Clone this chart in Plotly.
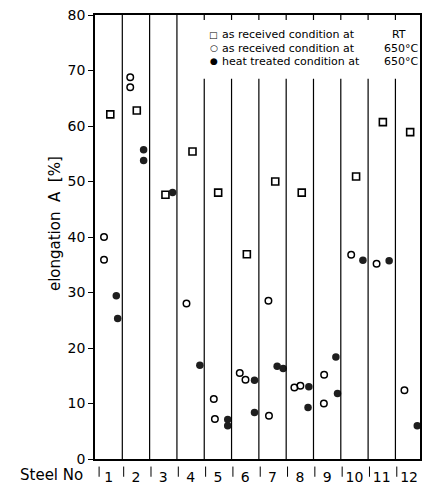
import plotly.graph_objects as go

# ---- data ----
steel_no = [1, 2, 3, 4, 5, 6, 7, 8, 9, 10, 11, 12]
steel_labels = ["1", "2", "3", "4", "5", "6", "7", "8", "9", "10", "11", "12"]

# as received condition at RT (open squares)
x_rt = [1.06, 2.03, 3.08, 4.07, 5.01, 6.06, 7.10, 8.07, 10.06, 11.04, 12.04]
y_rt = [62.1, 62.8, 47.6, 55.4, 48.0, 36.9, 50.0, 48.0, 50.9, 60.7, 58.9]

# as received condition at 650 C (open circles)
x_650 = [0.83, 0.83, 1.79, 1.79, 3.85, 4.85, 4.89, 5.80, 6.01, 6.85, 6.87,
         7.80, 8.02, 8.89, 8.88, 9.88, 10.81, 11.83]
y_650 = [40.0, 35.9, 68.8, 67.0, 28.0, 10.8, 7.2, 15.5, 14.3, 28.5, 7.8,
         12.9, 13.2, 15.2, 10.0, 36.8, 35.2, 12.4]

# heat treated condition at 650 C (filled circles)
x_ht = [1.28, 1.33, 2.28, 2.28, 3.34, 4.34, 5.36, 5.36, 6.34, 6.34, 7.17,
        7.39, 8.33, 8.30, 9.32, 9.38, 10.31, 11.27, 12.30]
y_ht = [29.4, 25.3, 55.7, 53.8, 48.0, 16.9, 7.1, 6.0, 14.2, 8.4, 16.7,
        16.3, 13.0, 9.3, 18.4, 11.8, 35.8, 35.7, 6.0]

y_ticks = [0, 10, 20, 30, 40, 50, 60, 70, 80]
legend_labels = ["as received condition at", "as received condition at",
                 "heat treated condition at"]
legend_right = ["RT", "650\u00b0C", "650\u00b0C"]
legend_symbols = ["\u25a1", "\u25cb", "\u25cf"]

FONT = "DejaVu Sans"
X0, X1 = 0.5, 12.4
Y0, Y1 = 0, 80
LEGEND_BOTTOM = 68.5

fig = go.Figure()
fig.add_trace(go.Scatter(x=x_rt, y=y_rt, mode="markers", cliponaxis=False,
                         marker=dict(symbol="square-open", size=7, color="black",
                                     line=dict(width=1.6, color="black"))))
fig.add_trace(go.Scatter(x=x_650, y=y_650, mode="markers", cliponaxis=False,
                         marker=dict(symbol="circle-open", size=6.5, color="black",
                                     line=dict(width=1.5, color="black"))))
fig.add_trace(go.Scatter(x=x_ht, y=y_ht, mode="markers", cliponaxis=False,
                         marker=dict(symbol="circle", size=7.5, color="#1e1e1e",
                                     line=dict(width=0))))

shapes = []
for k in steel_no[:-1]:
    sep = k + 0.5
    if k < 4:
        shapes.append(dict(type="line", xref="x", yref="y", x0=sep, x1=sep,
                           y0=Y0, y1=Y1, line=dict(color="black", width=1.2)))
    else:
        shapes.append(dict(type="line", xref="x", yref="y", x0=sep, x1=sep,
                           y0=Y0, y1=LEGEND_BOTTOM, line=dict(color="black", width=1.2)))
        shapes.append(dict(type="line", xref="x", yref="y", x0=sep, x1=sep,
                           y0=Y1 - 0.9, y1=Y1, line=dict(color="black", width=1.2)))
# little "|" marks in the label row
for sx in [0.65] + [k + 0.55 for k in steel_no[:-1]]:
    shapes.append(dict(type="line", xref="x", yref="paper", x0=sx, x1=sx,
                       y0=-0.017, y1=-0.040, line=dict(color="black", width=1)))

annotations = []
# legend text
leg_y = [76.4, 74.0, 71.65]
right_x = [0.935, 0.997, 0.997]
right_anchor = ["center", "right", "right"]
for sym, lab, right, ly, rx, ra in zip(legend_symbols, legend_labels, legend_right,
                                       leg_y, right_x, right_anchor):
    annotations.append(dict(
        xref="x", yref="y", x=5.03, y=ly, xanchor="right", yanchor="middle",
        showarrow=False, text=sym, borderpad=0,
        font=dict(family=FONT, size=9, color="black")))
    annotations.append(dict(
        xref="x", yref="y", x=5.13, y=ly, xanchor="left", yanchor="middle",
        showarrow=False, text=lab, borderpad=0,
        font=dict(family=FONT, size=11, color="black")))
    annotations.append(dict(
        xref="paper", yref="y", x=rx, y=ly, xanchor=ra, yanchor="middle",
        showarrow=False, text=right, borderpad=0,
        font=dict(family=FONT, size=11, color="black")))

# y axis title
annotations.append(dict(
    xref="paper", yref="paper", x=-0.125, y=0.53, xanchor="center", yanchor="middle",
    textangle=-90, showarrow=False,
    text="elongation\u00a0\u00a0A\u00a0\u00a0[%]",
    font=dict(family=FONT, size=15, color="black")))
# "Steel No"
annotations.append(dict(
    xref="paper", yref="paper", x=-0.03, y=-0.036, xanchor="right", yanchor="middle",
    showarrow=False, text="Steel No",
    font=dict(family=FONT, size=15, color="black")))

fig.update_layout(
    width=426, height=489,
    margin=dict(l=95, r=4, t=15, b=28),
    paper_bgcolor="white", plot_bgcolor="white",
    showlegend=False,
    shapes=shapes, annotations=annotations,
    font=dict(family=FONT, size=14, color="black"),
    xaxis=dict(range=[X0, X1], showgrid=False, zeroline=False,
               showline=True, linecolor="black", linewidth=1.5, mirror=True,
               tickvals=steel_no, ticktext=steel_labels, ticks="",
               tickfont=dict(family=FONT, size=14, color="black"),
               ticklabelstandoff=4),
    yaxis=dict(range=[Y0, Y1], showgrid=False, zeroline=False,
               showline=True, linecolor="black", linewidth=1.5, mirror=True,
               tickvals=y_ticks, ticks="outside", ticklen=5, tickwidth=1.2,
               tickcolor="black",
               tickfont=dict(family=FONT, size=14, color="black")),
)

fig.write_html("out.html")
